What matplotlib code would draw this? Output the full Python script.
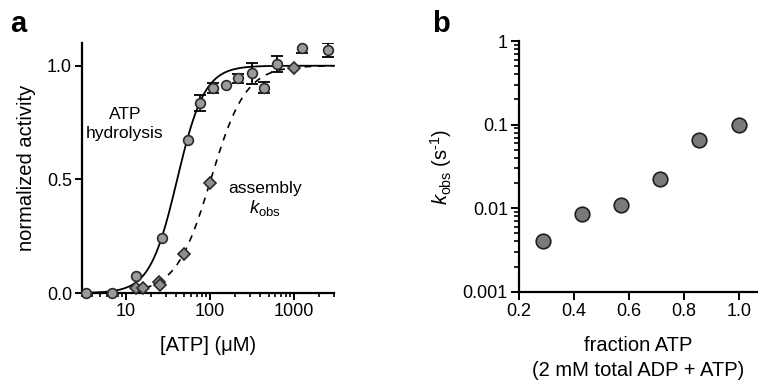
import numpy as np
import matplotlib
matplotlib.use("Agg")
import matplotlib.pyplot as plt
from matplotlib.ticker import FixedLocator, LogLocator, NullFormatter, FixedFormatter

plt.rcParams['font.family'] = ['Liberation Sans', 'DejaVu Sans']
plt.rcParams['mathtext.fontset'] = 'custom'
plt.rcParams['mathtext.rm'] = 'Liberation Sans'
plt.rcParams['mathtext.it'] = 'Liberation Sans:italic'

# ---- Panel a data ----
atp_conc = [3.4, 6.8, 13.3, 27.3, 54.6, 77.5, 110, 157, 219, 314, 444, 624, 1250, 2535]
atp_activity = [0.0, 0.0, 0.073, 0.244, 0.673, 0.836, 0.902, 0.915, 0.944, 0.966, 0.903, 1.007, 1.08, 1.069]
atp_err = [0, 0, 0, 0, 0, 0.035, 0.02, 0, 0.02, 0.045, 0.025, 0.035, 0.025, 0.03]

asm_conc = [13.3, 16.0, 25.0, 25.4, 49.0, 99.4, 1010]
asm_activity = [0.02, 0.023, 0.047, 0.036, 0.17, 0.483, 0.988]

# Hill fit parameters (K, n)
fit_hydrolysis = (41.0, 2.67)
fit_assembly = (103.0, 2.1)

# ---- Panel b data ----
fraction_atp = [0.286, 0.429, 0.571, 0.714, 0.857, 1.0]
kobs = [0.0040, 0.0084, 0.0109, 0.0226, 0.066, 0.100]

fig = plt.figure(figsize=(7.58, 3.8), dpi=100)

# ---------- Panel a ----------
axa = fig.add_axes([81.7/758, 1-293/380, (334-81.7)/758, (293-43)/380])
xx = np.logspace(np.log10(3), np.log10(3000), 400)
K, n = fit_hydrolysis
axa.plot(xx, (xx/K)**n/(1+(xx/K)**n), color='black', lw=1.3, zorder=2, clip_on=False)
xd = np.logspace(np.log10(17), np.log10(3000), 400)
K2, n2 = fit_assembly
axa.plot(xd, (xd/K2)**n2/(1+(xd/K2)**n2), color='black', lw=1.2, ls=(0, (4, 4)), zorder=2)

for x, y, e in zip(atp_conc, atp_activity, atp_err):
    if e > 0:
        axa.errorbar([x], [y], yerr=[e], fmt='none', ecolor='black', elinewidth=1.3,
                     capsize=4, capthick=1.3, zorder=3)
axa.plot(atp_conc, atp_activity, 'o', ms=7, mfc='#9b9b9b', mec='#2a2a2a', mew=1.2,
         zorder=4, clip_on=False)
axa.plot(asm_conc, asm_activity, 'D', ms=6.5, mfc='#8e8e8e', mec='#2a2a2a', mew=1.2,
         zorder=4, clip_on=False)

axa.set_xscale('log')
axa.set_xlim(3, 3000)
axa.set_ylim(0, 1.1)
axa.set_yticks([0.0, 0.5, 1.0])
axa.set_yticklabels(['0.0', '0.5', '1.0'])
axa.xaxis.set_major_locator(FixedLocator([10, 100, 1000]))
axa.xaxis.set_major_formatter(FixedFormatter(['10', '100', '1000']))
axa.xaxis.set_minor_locator(LogLocator(base=10, subs=np.arange(2, 10), numticks=20))
axa.xaxis.set_minor_formatter(NullFormatter())
for s in ['top', 'right']:
    axa.spines[s].set_visible(False)
for s in ['left', 'bottom']:
    axa.spines[s].set_linewidth(1.6)
axa.tick_params(axis='both', which='major', direction='out', length=5, width=1.4,
                labelsize=13, pad=2)
axa.tick_params(axis='x', which='minor', direction='out', length=3, width=1.2)
axa.set_ylabel('normalized activity', fontsize=14.5, labelpad=8)
axa.set_xlabel('[ATP] (μM)', fontsize=14.5, labelpad=12)

fig.text(125/758, 1-124/380, 'ATP\nhydrolysis', ha='center', va='center', fontsize=12.5,
         linespacing=1.35)
fig.text(265/758, 1-188/380, 'assembly', ha='center', va='center', fontsize=12.5)
fig.text(265/758, 1-208/380, r'$\mathit{k}_{\mathrm{obs}}$', ha='center', va='center',
         fontsize=13.5)
fig.text(18/758, 1-24/380, 'a', ha='center', va='center', fontsize=21, fontweight='bold')

# ---------- Panel b ----------
axb = fig.add_axes([519/758, 1-291.7/380, (758-519)/758, (291.7-41)/380])
axb.plot(fraction_atp, kobs, 'o', ms=10.5, mfc='#7a7a7a', mec='#1e1e1e', mew=1.2,
         zorder=4, clip_on=False)
axb.set_yscale('log')
axb.set_ylim(0.001, 1)
axb.set_xlim(0.2, 1.07)
axb.set_xticks([0.2, 0.4, 0.6, 0.8, 1.0])
axb.set_xticklabels(['0.2', '0.4', '0.6', '0.8', '1.0'])
axb.yaxis.set_major_locator(FixedLocator([0.001, 0.01, 0.1, 1]))
axb.yaxis.set_major_formatter(FixedFormatter(['0.001', '0.01', '0.1', '1']))
axb.yaxis.set_minor_locator(LogLocator(base=10, subs=np.arange(2, 10), numticks=20))
axb.yaxis.set_minor_formatter(NullFormatter())
for s in ['top', 'right']:
    axb.spines[s].set_visible(False)
for s in ['left', 'bottom']:
    axb.spines[s].set_linewidth(1.6)
axb.tick_params(axis='both', which='major', direction='out', length=6, width=1.4,
                labelsize=13, pad=2)
axb.tick_params(axis='y', which='minor', direction='out', length=3.5, width=1.2)
axb.set_ylabel(r'$\mathit{k}_{\mathrm{obs}}$ (s$^{\text{-1}}$)', fontsize=14.5, labelpad=6)
axb.set_xlabel('fraction ATP\n(2 mM total ADP + ATP)', fontsize=14.5, labelpad=12,
               linespacing=1.35)
fig.text(441/758, 1-24/380, 'b', ha='center', va='center', fontsize=21, fontweight='bold')

fig.savefig('out.png', dpi=100)
